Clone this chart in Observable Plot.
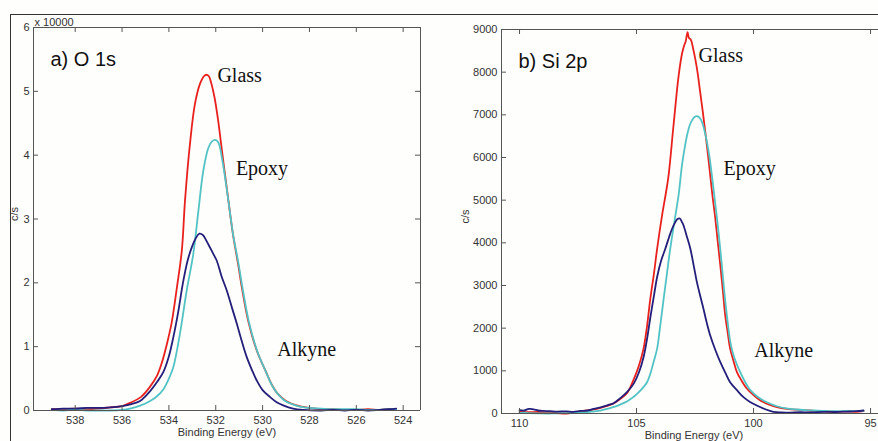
<!DOCTYPE html>
<html><head><meta charset="utf-8">
<script src="https://cdn.jsdelivr.net/npm/d3@7"></script>
<script src="https://cdn.jsdelivr.net/npm/@observablehq/plot@0.6"></script>
<style>
html,body{margin:0;padding:0;background:#fefefc;}
#wrap{position:relative;width:878px;height:441px;overflow:hidden;}
#outer{position:absolute;left:10px;top:14px;width:900px;height:460px;border-top:1px solid #333;border-left:1px solid #333;}
#left{position:absolute;left:0;top:0;width:440px;height:441px;}
#right{position:absolute;left:440px;top:0;width:438px;height:441px;}
</style></head>
<body><div id="wrap"><div id="outer"></div><div id="left"></div><div id="right"></div></div>
<script>
// ---------- data ----------
const seriesNames = ["Glass", "Epoxy", "Alkyne"];
const seriesColors = ["#e8211e", "#52c3c4", "#231f7a"];

// O 1s  (binding energy eV, counts/s in units of 10000)
const o1sGlass = [[539.0,0.02],[538.5,0.02],[538.0,0.03],[537.5,0.02],[537.0,0.03],[536.5,0.05],[536.0,0.07],[535.66,0.12],[535.2,0.21],[534.81,0.37],[534.5,0.55],[534.3,0.75],[534.08,1.05],[533.88,1.38],[533.65,1.95],[533.45,2.5],[533.31,3.3],[533.1,4.18],[532.89,4.8],[532.67,5.12],[532.5,5.24],[532.4,5.26],[532.3,5.24],[532.2,5.14],[532.05,4.9],[531.9,4.55],[531.78,4.2],[531.5,3.4],[531.27,2.77],[531.05,2.3],[530.85,1.85],[530.6,1.38],[530.25,0.94],[529.85,0.6],[529.6,0.4],[529.35,0.26],[529.0,0.15],[528.55,0.08],[528.0,0.04],[527.5,0.02],[527.0,0.02],[526.5,0.01],[526.0,0.01],[525.5,0.02],[525.0,0.01],[524.5,0.02],[524.3,0.02]];
const o1sEpoxy = [[539.0,0.01],[538.5,0.0],[538.0,0.01],[537.5,0.0],[537.0,0.0],[536.5,0.0],[536.0,0.01],[535.66,0.03],[535.2,0.08],[534.8,0.15],[534.52,0.22],[534.24,0.33],[534.0,0.5],[533.81,0.68],[533.53,1.2],[533.24,1.88],[532.96,2.45],[532.74,3.13],[532.53,3.76],[532.31,4.12],[532.15,4.22],[532.03,4.24],[531.89,4.2],[531.72,3.92],[531.5,3.39],[531.27,2.78],[531.03,2.3],[530.83,1.86],[530.58,1.38],[530.22,0.92],[529.83,0.58],[529.58,0.38],[529.33,0.25],[529.0,0.14],[528.5,0.07],[528.0,0.04],[527.5,0.03],[527.0,0.02],[526.5,0.02],[526.0,0.02],[525.5,0.01],[525.0,0.01],[524.5,0.02],[524.3,0.02]];
const o1sAlkyne = [[539.0,0.02],[538.5,0.03],[538.0,0.03],[537.5,0.04],[537.0,0.04],[536.5,0.05],[536.0,0.07],[535.6,0.1],[535.23,0.15],[534.81,0.3],[534.5,0.45],[534.24,0.6],[534.0,0.85],[533.81,1.15],[533.6,1.55],[533.4,2.0],[533.2,2.35],[533.0,2.58],[532.85,2.7],[532.7,2.77],[532.55,2.75],[532.4,2.66],[532.1,2.45],[531.96,2.35],[531.75,2.1],[531.53,1.88],[531.3,1.6],[531.1,1.36],[530.9,1.1],[530.68,0.84],[530.45,0.63],[530.25,0.47],[530.0,0.32],[529.68,0.21],[529.4,0.13],[529.12,0.08],[528.7,0.03],[528.27,0.01],[527.5,0.0],[527.0,0.01],[526.5,0.0],[526.0,0.01],[525.5,0.0],[525.0,0.01],[524.6,0.02],[524.3,0.03]];

// Si 2p (binding energy eV, counts/s)
const si2pGlass = [[110.0,40],[109.6,30],[109.2,35],[108.8,20],[108.4,10],[108.0,0],[107.7,20],[107.4,50],[107.0,80],[106.7,110],[106.3,170],[106.0,230],[105.7,340],[105.4,480],[105.12,800],[104.9,1120],[104.7,1520],[104.55,2050],[104.41,2690],[104.25,3300],[104.12,3860],[103.91,4640],[103.75,5150],[103.63,5580],[103.42,6750],[103.2,7920],[103.05,8450],[102.95,8650],[102.9,8720],[102.82,8940],[102.76,8800],[102.68,8760],[102.58,8550],[102.49,8310],[102.38,7950],[102.28,7530],[102.17,7080],[102.06,6590],[101.95,6080],[101.85,5580],[101.75,5080],[101.64,4600],[101.53,4030],[101.42,3470],[101.31,2880],[101.21,2300],[101.1,1880],[101.0,1520],[100.85,1220],[100.71,970],[100.5,760],[100.28,580],[100.0,430],[99.8,340],[99.57,265],[99.3,200],[99.0,150],[98.58,110],[98.2,90],[97.8,80],[97.4,60],[97.0,50],[96.5,40],[96.0,45],[95.6,40],[95.3,55]];
const si2pEpoxy = [[110.0,15],[109.6,10],[109.2,5],[108.8,0],[108.4,5],[108.0,10],[107.5,20],[107.0,40],[106.54,70],[106.0,150],[105.7,210],[105.41,280],[105.2,360],[105.0,450],[104.8,560],[104.55,734],[104.4,950],[104.3,1150],[104.12,1520],[104.0,2000],[103.84,2690],[103.7,3280],[103.56,3860],[103.34,4640],[103.2,5130],[103.06,5810],[102.95,6200],[102.84,6520],[102.73,6750],[102.63,6870],[102.52,6950],[102.42,6970],[102.3,6930],[102.2,6830],[102.1,6640],[101.99,6360],[101.88,6000],[101.78,5580],[101.67,5080],[101.56,4560],[101.45,4000],[101.35,3450],[101.25,2850],[101.14,2300],[101.0,1700],[100.9,1450],[100.75,1200],[100.57,970],[100.4,780],[100.2,590],[100.0,470],[99.8,380],[99.6,310],[99.43,265],[99.2,210],[99.0,170],[98.6,120],[98.15,94],[97.8,80],[97.5,70],[97.0,60],[96.5,55],[96.0,60],[95.6,55],[95.3,60]];
const si2pAlkyne = [[110.0,80],[109.8,70],[109.6,110],[109.4,95],[109.2,70],[109.0,60],[108.7,55],[108.4,45],[108.0,50],[107.7,40],[107.4,60],[107.1,70],[106.83,110],[106.5,150],[106.2,200],[105.98,240],[105.69,360],[105.41,500],[105.12,700],[104.9,960],[104.7,1320],[104.55,1750],[104.41,2250],[104.25,2780],[104.12,3200],[103.95,3580],[103.77,3860],[103.6,4150],[103.48,4330],[103.35,4480],[103.25,4560],[103.15,4570],[103.05,4480],[102.99,4407],[102.85,4150],[102.7,3860],[102.55,3450],[102.42,3078],[102.28,2760],[102.14,2454],[102.0,2130],[101.85,1828],[101.64,1500],[101.42,1203],[101.2,950],[101.0,734],[100.7,540],[100.43,383],[100.15,270],[99.86,188],[99.5,100],[99.15,40],[98.8,25],[98.5,20],[98.0,30],[97.5,25],[97.0,40],[96.5,35],[96.0,45],[95.6,55],[95.3,70]];

// tick values
const o1sXTicks = [538, 536, 534, 532, 530, 528, 526, 524];
const o1sYTicks = [0, 1, 2, 3, 4, 5, 6];
const si2pXTicks = [110, 105, 100, 95];
const si2pYTicks = [0, 1000, 2000, 3000, 4000, 5000, 6000, 7000, 8000, 9000];

// axis limits
const o1sXDomain = [539.78, 523.26];
const si2pXDomain = [110.77, 94.66];

// series label anchors (in data coordinates)
const o1sLabels = [
  {name: "Glass", E: 531.93, I: 5.25},
  {name: "Epoxy", E: 531.14, I: 3.79},
  {name: "Alkyne", E: 529.37, I: 0.956}
];
const si2pLabels = [
  {name: "Glass", E: 102.35, I: 8391},
  {name: "Epoxy", E: 101.28, I: 5736},
  {name: "Alkyne", E: 99.97, I: 1477}
];

// ---------- build ----------
function rows(list) {
  const out = [];
  list.forEach((arr, k) => arr.forEach(([e, i]) => out.push({E: e, I: i, s: seriesNames[k]})));
  return out;
}

const sans = "'Liberation Sans', Arial, Helvetica, sans-serif";
const serif = "'Liberation Serif', 'Times New Roman', serif";
const axisColor = "#555";
const textColor = "#333";

function panel({W, H, mL, mR, mT, mB, xDomain, yTicks, xTicks, data, labels, title, yFmt, showRight, showMult, xLabelDx, yLabelDx}) {
  const ph = H - mT - mB, pw = W - mL - mR;
  const yDomain = [yTicks[0], yTicks[yTicks.length - 1]];
  const marks = [
    Plot.line(data, {x: "E", y: "I", z: "s", stroke: "s", strokeWidth: 1.8, curve: "catmull-rom"}),
    // frame
    Plot.ruleY(yDomain, {y: d => d, stroke: axisColor}),
    Plot.ruleX([xDomain[0]], {x: d => d, stroke: axisColor}),
    // inward ticks
    Plot.ruleX(xTicks, {x: d => d, insetTop: ph - 5, stroke: axisColor}),
    Plot.ruleX(xTicks, {x: d => d, insetBottom: ph - 5, stroke: axisColor}),
    Plot.ruleY(yTicks, {y: d => d, insetRight: pw - 5, stroke: axisColor}),
    // tick labels
    Plot.axisX(xTicks, {anchor: "bottom", tickSize: 0, tickPadding: 6, fontSize: 11, fill: textColor, label: null, tickFormat: d => String(d)}),
    Plot.axisY(yTicks, {anchor: "left", tickSize: 0, tickPadding: 4, fontSize: 11, fill: textColor, label: null, tickFormat: yFmt}),
    // axis titles
    Plot.text(["c/s"], {text: d => d, frameAnchor: "left", dx: yLabelDx, dy: 2, rotate: -90, fontSize: 11, fill: textColor}),
    Plot.text(["Binding Energy (eV)"], {text: d => d, frameAnchor: "bottom", dx: xLabelDx, dy: 25, fontSize: 11, fill: textColor}),
    // panel title
    Plot.text([title], {text: d => d, frameAnchor: "top-left", dx: 17, dy: 24, textAnchor: "start", fontSize: 20, fill: "#111"}),
    // series labels
    Plot.text(labels, {x: "E", y: "I", text: "name", textAnchor: "start", fontSize: 20, fontFamily: serif, fill: "#111"})
  ];
  if (showRight) {
    marks.push(Plot.ruleX([xDomain[1]], {x: d => d, stroke: axisColor}));
    marks.push(Plot.ruleY(yTicks, {y: d => d, insetLeft: pw - 5, stroke: axisColor}));
  }
  if (showMult) {
    marks.push(Plot.text(["x 10000"], {text: d => d, frameAnchor: "top-left", dx: 1, dy: -9, textAnchor: "start", fontSize: 11, fill: textColor}));
  }
  return Plot.plot({
    width: W, height: H,
    marginLeft: mL, marginRight: mR, marginTop: mT, marginBottom: mB,
    style: {background: "transparent", fontFamily: sans, overflow: "visible"},
    x: {domain: xDomain, label: null},
    y: {domain: yDomain, label: null},
    color: {domain: seriesNames, range: seriesColors},
    marks
  });
}

const left = panel({
  W: 440, H: 441, mL: 33, mR: 20, mT: 27, mB: 31,
  xDomain: o1sXDomain, xTicks: o1sXTicks, yTicks: o1sYTicks,
  data: rows([o1sGlass, o1sEpoxy, o1sAlkyne]), labels: o1sLabels,
  title: "a) O 1s", yFmt: d => String(d), showRight: true, showMult: true,
  xLabelDx: 0, yLabelDx: -19
});
document.getElementById("left").appendChild(left);

const right = panel({
  W: 438, H: 441, mL: 61, mR: 0, mT: 29, mB: 28,
  xDomain: si2pXDomain, xTicks: si2pXTicks, yTicks: si2pYTicks,
  data: rows([si2pGlass, si2pEpoxy, si2pAlkyne]), labels: si2pLabels,
  title: "b) Si 2p", yFmt: d => String(d), showRight: false, showMult: false,
  xLabelDx: 4, yLabelDx: -36
});
document.getElementById("right").appendChild(right);
</script></body></html>
